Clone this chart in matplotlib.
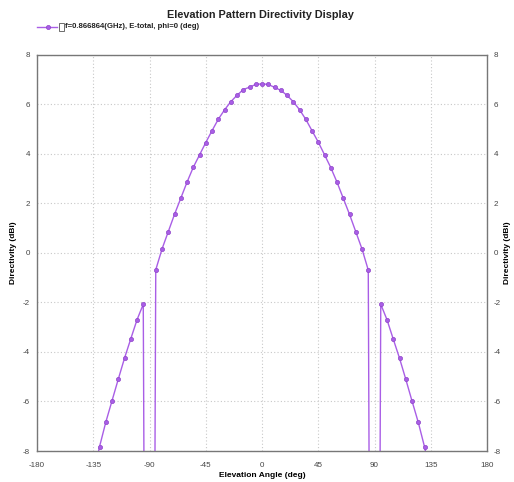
import numpy as np
import matplotlib
matplotlib.use('Agg')
import matplotlib.pyplot as plt
from matplotlib.lines import Line2D

plt.rcParams['font.family'] = ['Liberation Sans', 'DejaVu Sans']
plt.rcParams['axes.unicode_minus'] = False

# Elevation angle (deg) and directivity (dBi); values at +/-90 and +/-135 fall below the axis
angles = [-135, -130, -125, -120, -115, -110, -105, -100, -95, -90,
          -85, -80, -75, -70, -65, -60, -55, -50, -45, -40, -35, -30, -25, -20, -15, -10, -5,
          0, 5, 10, 15, 20, 25, 30, 35, 40, 45, 50, 55, 60, 65, 70, 75, 80, 85,
          90, 95, 100, 105, 110, 115, 120, 125, 130, 135]
directivity = [-9.0, -7.83, -6.84, -5.97, -5.10, -4.25, -3.47, -2.70, -2.07, -60.0,
               -0.68, 0.16, 0.86, 1.56, 2.21, 2.86, 3.46, 3.96, 4.46, 4.94, 5.40, 5.78, 6.11, 6.37, 6.60, 6.70, 6.81,
               6.83, 6.81, 6.69, 6.57, 6.37, 6.11, 5.79, 5.40, 4.94, 4.48, 3.97, 3.45, 2.86, 2.21, 1.56, 0.86, 0.16, -0.69,
               -60.0, -2.07, -2.70, -3.48, -4.25, -5.10, -5.98, -6.84, -7.83, -9.0]
x_ticks = [-180, -135, -90, -45, 0, 45, 90, 135, 180]
y_ticks = [-8, -6, -4, -2, 0, 2, 4, 6, 8]

legend_text = 'f=0.866864(GHz), E-total, phi=0 (deg)'
purple = '#a95ee6'

fig = plt.figure(figsize=(5.14, 4.82), dpi=100)
ax = fig.add_axes([0.072, 0.0643, 0.8755, 0.8217])

ax.plot(angles, directivity, color=purple, lw=1.0, marker='o', ms=3,
        mfc=purple, mec='#8e44c8', mew=0.5)

ax.set_xlim(-180, 180)
ax.set_ylim(-8, 8)
ax.set_xticks(x_ticks)
ax.set_yticks(y_ticks)
ax.grid(True, color='#c8c8c8', linestyle=(0, (1, 2)), lw=0.8)
ax.tick_params(length=0, labelsize=5.8, labelcolor='#444444', pad=5,
               left=True, right=True, labelleft=True, labelright=True)
ax.tick_params(axis='x', pad=8)
for s in ax.spines.values():
    s.set_color('#777777')
    s.set_linewidth(1.0)

ax.set_xlabel('Elevation Angle (deg)', fontsize=6, fontweight='bold', labelpad=2)

# axis titles on both sides
fig.text(0.027, 0.475, 'Directivity (dBi)', rotation=90, ha='center', va='center',
         fontsize=6, fontweight='bold')
fig.text(0.988, 0.475, 'Directivity (dBi)', rotation=90, ha='center', va='center',
         fontsize=6, fontweight='bold')

fig.text(0.506, 0.968, 'Elevation Pattern Directivity Display', ha='center', va='center',
         fontsize=7.8, fontweight='bold', color='#222222')

# legend row: line with marker, checkbox, label
fig.add_artist(Line2D([0.072, 0.111], [0.944, 0.944], transform=fig.transFigure,
                      color=purple, lw=1.0))
fig.add_artist(Line2D([0.093], [0.944], transform=fig.transFigure, color=purple,
                      marker='o', ms=3, mfc=purple, mec='#8e44c8', mew=0.5, lw=0))
fig.add_artist(plt.Rectangle((0.115, 0.936), 0.009, 0.016, transform=fig.transFigure,
                             fill=False, ec='#555555', lw=0.6))
fig.text(0.127, 0.944, legend_text, ha='left', va='center', fontsize=5.6,
         fontweight='bold', color='#222222')

fig.savefig('out.png', dpi=100)
plt.close(fig)
